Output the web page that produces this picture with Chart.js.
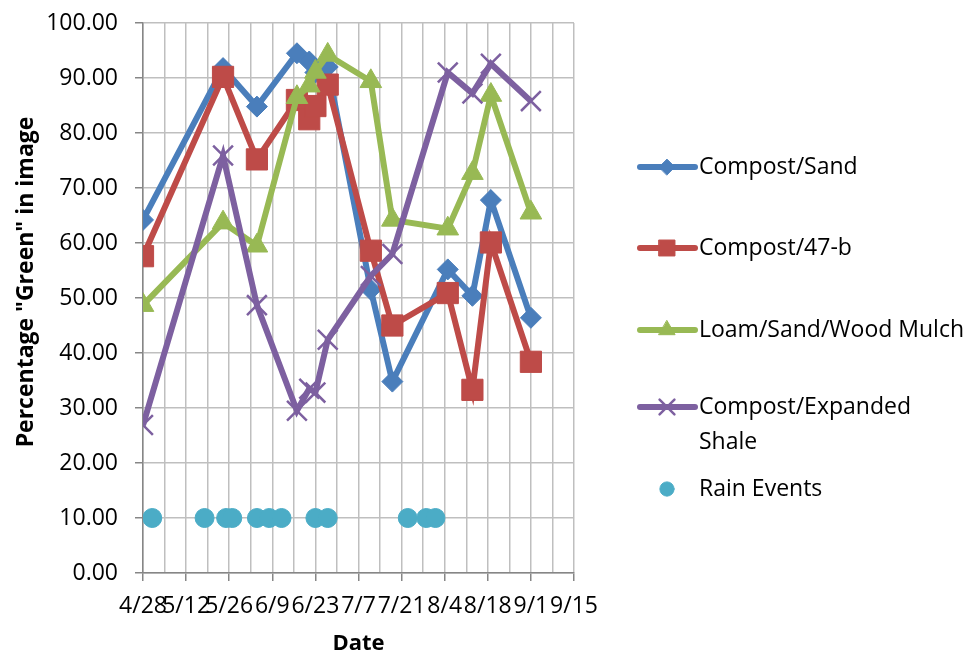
<!DOCTYPE html>
<html>
<head>
<meta charset="utf-8">
<script src="https://cdn.jsdelivr.net/npm/chart.js@4/dist/chart.umd.min.js"></script>
<style>
  body { margin: 0; background: #fff; }
  #wrap { width: 973px; height: 658px; }
</style>
</head>
<body>
<div id="wrap"><canvas id="greenChart" width="973" height="658"></canvas></div>
<script>
// sampling dates (month/day)
const sampleDates = ['4/28', '5/24', '6/4', '6/17', '6/21', '6/23', '6/27', '7/11', '7/18', '8/5', '8/13', '8/19', '9/1'];
const compostSand = [64.2, 91.8, 84.8, 94.5, 93.0, 91.0, 92.0, 51.5, 34.8, 55.2, 50.4, 67.8, 46.4];
const compost47b = [57.6, 90.2, 75.2, 86.0, 82.5, 84.9, 88.8, 58.6, 45.0, 50.9, 33.3, 60.1, 38.4];
const loamMulch = [48.7, 63.7, 59.5, 86.5, 88.6, 91.1, 94.2, 89.4, 64.2, 62.6, 72.7, 86.9, 65.5];
const compostShale = [26.9, 75.9, 48.7, 29.5, 33.5, 32.8, 42.4, 54.0, 58.0, 91.0, 87.2, 92.6, 85.8];

const rainDates = ['5/1', '5/18', '5/25', '5/27', '6/4', '6/8', '6/12', '6/23', '6/27', '7/23', '7/29', '8/1'];
const rainLevel = 10;

// x axis runs 4/28 .. 9/15, labelled every 14 days
const startDate = '4/28';
const endDate = '9/15';
const labelEvery = 14;

const YEAR = 2015;
const DAY = 86400000;
function toDate(md) {
    const [m, d] = md.split('/').map(Number);
    return new Date(YEAR, m - 1, d);
}
const origin = toDate(startDate);
function dayOf(md) {
    return Math.round((toDate(md) - origin) / DAY);
}
function fmtDay(n) {
    const dt = new Date(origin.getTime() + n * DAY);
    return (dt.getMonth() + 1) + '/' + dt.getDate();
}
function pts(dates, values) {
    return dates.map((d, i) => ({ x: dayOf(d), y: values[i] }));
}

const FONT = 'Open Sans';
const GRID = '#bfbfbf';
const AXIS = '#868686';
const LINE_W = 6;

const series = [
    { label: 'Compost/Sand', data: pts(sampleDates, compostSand), color: '#4a7ebb', style: 'rectRot', radius: 10.5, order: 5 },
    { label: 'Compost/47-b', data: pts(sampleDates, compost47b), color: '#be4b48', style: 'rect', radius: 15, order: 4 },
    { label: 'Loam/Sand/Wood Mulch', data: pts(sampleDates, loamMulch), color: '#98b954', style: 'triangle', radius: 12.5, order: 3 },
    { label: 'Compost/Expanded Shale', data: pts(sampleDates, compostShale), color: '#7d60a0', style: 'crossRot', radius: 14, order: 2 },
    { label: 'Rain Events', data: rainDates.map(d => ({ x: dayOf(d), y: rainLevel })), color: '#4bacc6', style: 'circle', radius: 9.5, order: 1, noLine: true }
];

const datasets = series.map(s => ({
    label: s.label,
    data: s.data,
    order: s.order,
    showLine: !s.noLine,
    borderColor: s.color,
    backgroundColor: s.color,
    borderWidth: LINE_W,
    pointStyle: s.style,
    pointRadius: s.radius,
    pointHoverRadius: s.radius,
    pointBackgroundColor: s.color,
    pointBorderColor: s.color,
    pointBorderWidth: s.style === 'crossRot' ? 2.5 : 1,
    tension: 0
}));

// legend drawn on the right, one row per series
const legendRows = [
    { y: 167, lines: ['Compost/Sand'] },
    { y: 248, lines: ['Compost/47-b'] },
    { y: 330, lines: ['Loam/Sand/Wood Mulch'] },
    { y: 407, lines: ['Compost/Expanded', 'Shale'] },
    { y: 489, lines: ['Rain Events'] }
];
const sideLegend = {
    id: 'sideLegend',
    afterDraw(chart) {
        const ctx = chart.ctx;
        ctx.save();
        legendRows.forEach((row, i) => {
            const s = series[i];
            ctx.strokeStyle = s.color;
            ctx.fillStyle = s.color;
            if (!s.noLine) {
                ctx.lineWidth = LINE_W;
                ctx.lineCap = 'round';
                ctx.beginPath();
                ctx.moveTo(640, row.y);
                ctx.lineTo(695, row.y);
                ctx.stroke();
            }
            ctx.lineWidth = s.style === 'crossRot' ? 2.5 : 1;
            Chart.helpers.drawPoint(ctx, { pointStyle: s.style, radius: s.radius * 0.75, rotation: 0, borderWidth: ctx.lineWidth }, 667, row.y);
            ctx.fillStyle = '#000';
            ctx.font = '23px "' + FONT + '"';
            ctx.textBaseline = 'middle';
            ctx.textAlign = 'left';
            row.lines.forEach((t, k) => ctx.fillText(t, 699, row.y + k * 35));
        });

        // rotated value-axis title
        ctx.translate(26, 282);
        ctx.rotate(-Math.PI / 2);
        ctx.font = 'bold 23px "' + FONT + '"';
        ctx.textAlign = 'center';
        ctx.textBaseline = 'middle';
        ctx.fillText('Percentage "Green" in image', 0, 0);
        ctx.restore();
    }
};

Chart.defaults.font.family = FONT;
Chart.defaults.color = '#000';

new Chart(document.getElementById('greenChart'), {
    type: 'scatter',
    data: { datasets: datasets },
    options: {
        responsive: false,
        animation: false,
        layout: { padding: { top: 23, right: 399, left: 0, bottom: 0 } },
        plugins: {
            legend: { display: false },
            tooltip: { enabled: false }
        },
        scales: {
            x: {
                type: 'linear',
                min: dayOf(startDate),
                max: dayOf(endDate),
                afterFit: scale => {
                    scale.height = 85;
                    scale.paddingLeft = 0;
                    scale.paddingRight = 0;
                },
                grid: {
                    color: GRID,
                    lineWidth: 1.5,
                    tickLength: 8,
                    tickColor: c => (c.tick && c.tick.value % labelEvery === 0) ? AXIS : 'rgba(0,0,0,0)'
                },
                border: { color: AXIS, width: 1.5 },
                ticks: {
                    stepSize: 7,
                    autoSkip: false,
                    maxRotation: 0,
                    minRotation: 0,
                    padding: 12,
                    font: { size: 23 },
                    callback: v => v % labelEvery === 0 ? fmtDay(v) : ''
                },
                title: {
                    display: true,
                    text: 'Date',
                    font: { size: 22, weight: 'bold' },
                    padding: { top: 0, bottom: 1 }
                }
            },
            y: {
                min: 0,
                max: 100,
                afterFit: scale => {
                    scale.width = 143;
                    scale.paddingTop = 0;
                    scale.paddingBottom = 0;
                },
                grid: {
                    color: GRID,
                    lineWidth: 1.5,
                    tickLength: 8,
                    tickColor: c => (c.tick && c.tick.value % 10 === 0) ? AXIS : 'rgba(0,0,0,0)'
                },
                border: { color: AXIS, width: 1.5 },
                ticks: {
                    stepSize: 5,
                    padding: 17,
                    font: { size: 23 },
                    callback: v => v % 10 === 0 ? v.toFixed(2) : ''
                }
            }
        }
    },
    plugins: [sideLegend]
});
</script>
</body>
</html>
